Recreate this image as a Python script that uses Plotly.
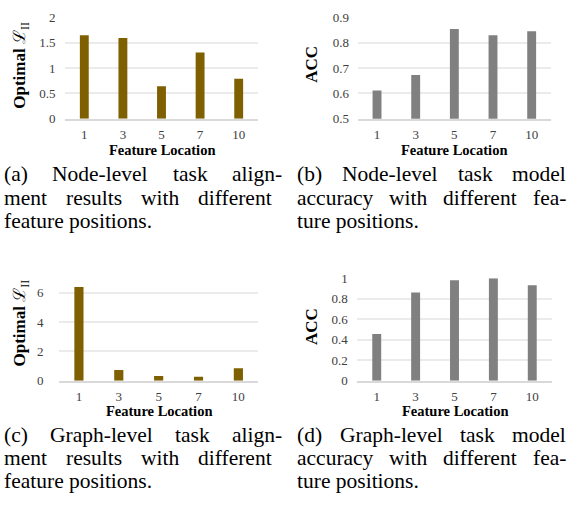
import plotly.graph_objects as go

# ---------------- data ----------------
locations = ["1", "3", "5", "7", "10"]
node_align = [1.65, 1.60, 0.64, 1.31, 0.79]
node_acc = [0.612, 0.673, 0.855, 0.830, 0.846]
graph_align = [6.40, 0.73, 0.33, 0.28, 0.86]
graph_acc = [0.457, 0.861, 0.98, 1.0, 0.93]

x_title = "Feature Location"
y_title_align = "<b>Optimal</b> ℒ<sub>II</sub>"
y_title_acc = "<b>ACC</b>"

captions = {
    "a": ["(a) Node-level task align-", "ment results with different", "feature positions."],
    "b": ["(b) Node-level task model", "accuracy with different fea-", "ture positions."],
    "c": ["(c) Graph-level task align-", "ment results with different", "feature positions."],
    "d": ["(d) Graph-level task model", "accuracy with different fea-", "ture positions."],
}

W, H = 571, 516
OLIVE = "#7F6000"
GRAY = "#808080"
SERIF = "Liberation Serif, Times New Roman, serif"


def px(x):
    return x / W


def py(y):
    return 1 - y / H


fig = go.Figure()

panels = [
    # values, color, xdom(px), ydom(px), yrange, dtick, ylabel gap, ytitle, ytitle pos, xtitle pos
    (node_align, OLIVE, (65, 258), (11, 115), [0, 2], 0.5, 6, y_title_align, (21.5, 60), (162, 147)),
    (node_acc, GRAY, (357.7, 551), (11, 115), [0.5, 0.9], 0.1, 5, y_title_acc, (311.5, 59), (454, 147)),
    (graph_align, OLIVE, (59, 258.3), (279.3, 385), [0, 7], 2, 12, y_title_align, (21, 326), (158.5, 416)),
    (graph_acc, GRAY, (357.3, 551.7), (279.3, 385), [0, 1], 0.2, 6, y_title_acc, (312, 328.5), (454.5, 416)),
]

annotations = []
for i, (vals, col, xd, yd, yr, dt, gap, ytxt, ypos, xpos) in enumerate(panels, start=1):
    sfx = "" if i == 1 else str(i)
    fig.add_trace(go.Bar(x=locations, y=vals, marker=dict(color=col, line=dict(width=0)),
                         xaxis="x" + sfx, yaxis="y" + sfx, showlegend=False,
                         hoverinfo="x+y"))
    fig.layout["xaxis" + sfx] = dict(
        domain=[px(xd[0]), px(xd[1])], anchor="y" + sfx, type="category",
        showline=True, linecolor="#D9D9D9", linewidth=2, showgrid=False,
        ticks="outside", ticklen=3, tickcolor="rgba(0,0,0,0)",
        tickfont=dict(family=SERIF, size=13, color="#404040"), fixedrange=True,
    )
    fig.layout["yaxis" + sfx] = dict(
        domain=[py(yd[1]), py(yd[0])], anchor="x" + sfx, range=yr, dtick=dt,
        showline=False, zeroline=False, showgrid=True, gridcolor="#EBEBEB", gridwidth=1.5,
        ticks="outside", ticklen=gap, tickcolor="rgba(0,0,0,0)",
        tickfont=dict(family=SERIF, size=13, color="#404040"), fixedrange=True,
    )
    annotations.append(dict(text=ytxt, x=px(ypos[0]), y=py(ypos[1]), xref="paper", yref="paper",
                            textangle=-90, showarrow=False, xanchor="center", yanchor="middle",
                            font=dict(family=SERIF, size=17, color="black")))
    annotations.append(dict(text="<b>" + x_title + "</b>", x=px(xpos[0]), y=py(xpos[1]),
                            xref="paper", yref="paper", showarrow=False,
                            xanchor="center", yanchor="middle",
                            font=dict(family=SERIF, size=14.5, color="black")))

# ---------------- captions (justified like the LaTeX original) ----------------
CW = {' ': 250, '(': 333, ')': 333, '-': 333, '.': 250, 'a': 444, 'b': 500, 'c': 444, 'd': 500,
      'e': 444, 'f': 333, 'g': 500, 'h': 500, 'i': 278, 'k': 500, 'l': 278, 'm': 778, 'n': 500,
      'o': 500, 'p': 500, 'r': 333, 's': 389, 't': 278, 'u': 500, 'v': 500, 'w': 722, 'y': 500,
      'N': 722, 'G': 722}
FS = 21.5


def word_w(w):
    return sum(CW.get(c, 500) for c in w) * FS / 1000


cap_layout = {
    "a": (4, [282, 272], [172.5, 196.5, 220]),
    "b": (297, [566, 566], [172.5, 196.5, 220]),
    "c": (4, [282, 272], [441, 465, 488.5]),
    "d": (297, [566, 566], [441, 465, 488.5]),
}
for key, lines in captions.items():
    left, rights, ys = cap_layout[key]
    for li, line in enumerate(lines):
        if li < 2:
            words = line.split(" ")
            widths = [word_w(w) for w in words]
            g = (rights[li] - left - sum(widths)) / (len(words) - 1)
            xcur = left
            for w, ww in zip(words, widths):
                annotations.append(dict(text=w, x=px(xcur - 1), y=py(ys[li]), xref="paper", yref="paper",
                                        showarrow=False, xanchor="left", yanchor="middle", borderpad=0,
                                        font=dict(family=SERIF, size=FS, color="black")))
                xcur += ww + g
        else:
            annotations.append(dict(text=line, x=px(left - 1), y=py(ys[li]), xref="paper", yref="paper",
                                    showarrow=False, xanchor="left", yanchor="middle", borderpad=0,
                                    font=dict(family=SERIF, size=FS, color="black")))

fig.update_layout(
    width=W, height=H, margin=dict(l=0, r=0, t=0, b=0),
    paper_bgcolor="white", plot_bgcolor="white",
    bargap=0.77, annotations=annotations, showlegend=False,
)

fig.write_html("out.html", config={"displayModeBar": False},
               post_script="document.body.style.margin='0';document.body.style.padding='0';")
